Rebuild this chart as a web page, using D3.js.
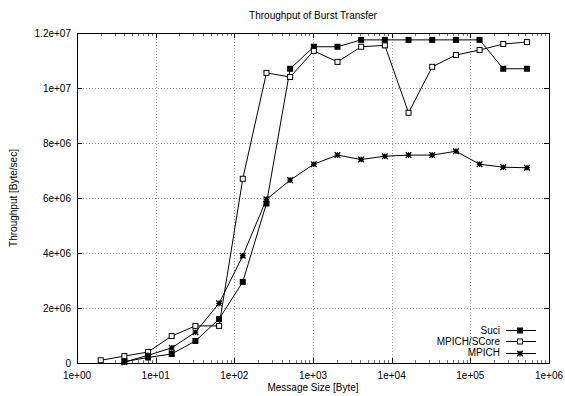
<!DOCTYPE html>
<html>
<head>
<meta charset="utf-8">
<script src="https://cdn.jsdelivr.net/npm/d3@7"></script>
<style>
  body { margin: 0; background: #fff; overflow: hidden; }
  svg { display: block; }
  svg text { font-family: "Liberation Sans", Arial, sans-serif; fill: #000; }
</style>
</head>
<body>
<div id="chart"></div>
<script>
// message sizes in bytes (powers of two)
const sizes = [2, 4, 8, 16, 32, 64, 128, 256, 512, 1024, 2048, 4096, 8192,
  16384, 32768, 65536, 131072, 262144, 524288];

// throughput values [Byte/sec], null = no point
const suci = [null, 0.05e6, 0.2e6, 0.33e6, 0.8e6, 1.6e6, 2.95e6, 5.8e6, 10.7e6,
  11.5e6, 11.5e6, 11.75e6, 11.75e6, 11.75e6, 11.75e6, 11.75e6, 11.75e6, 10.7e6, 10.7e6];
const score = [0.1e6, 0.25e6, 0.4e6, 0.98e6, 1.35e6, 1.35e6, 6.7e6, 10.55e6, 10.4e6,
  11.35e6, 10.95e6, 11.5e6, 11.55e6, 9.1e6, 10.77e6, 11.2e6, 11.38e6, 11.6e6, 11.67e6];
const mpich = [null, 0.03e6, 0.28e6, 0.55e6, 1.12e6, 2.17e6, 3.9e6, 5.95e6, 6.65e6,
  7.23e6, 7.56e6, 7.4e6, 7.52e6, 7.56e6, 7.56e6, 7.7e6, 7.23e6, 7.12e6, 7.1e6];

const xTicks = [1, 10, 100, 1000, 10000, 100000, 1000000];
const yTicks = [0, 2e6, 4e6, 6e6, 8e6, 10e6, 12e6];
const seriesNames = ["Suci", "MPICH/SCore", "MPICH"];

const width = 565, height = 396;
const margin = { top: 33, right: 16, bottom: 33, left: 77 };
const innerWidth = width - margin.left - margin.right;
const innerHeight = height - margin.top - margin.bottom;

const svg = d3.select("#chart").append("svg")
  .attr("width", width)
  .attr("height", height);

const g = svg.append("g")
  .attr("transform", `translate(${margin.left}, ${margin.top})`);

const x = d3.scaleLog().domain([1, 1e6]).range([0, innerWidth]);
const y = d3.scaleLinear().domain([0, 12e6]).range([innerHeight, 0]);

// format like gnuplot: 1e+02, 2e+06
const fmtX = (d) => "1e+" + String(Math.round(Math.log10(d))).padStart(2, "0");
const fmtY = (d) => {
  if (d === 0) return "0";
  const e = Math.floor(Math.log10(d));
  const m = +(d / Math.pow(10, e)).toFixed(1);
  return m + "e+" + String(e).padStart(2, "0");
};

// grid
const grid = g.append("g").attr("stroke", "#999").attr("stroke-width", 1)
  .attr("stroke-dasharray", "1,2");
grid.selectAll(".gx").data(xTicks.slice(1, -1)).enter().append("line")
  .attr("x1", (d) => Math.round(x(d)) + 0.5).attr("x2", (d) => Math.round(x(d)) + 0.5)
  .attr("y1", 0).attr("y2", innerHeight);
grid.selectAll(".gy").data(yTicks.slice(1, -1)).enter().append("line")
  .attr("y1", (d) => Math.round(y(d)) + 0.5).attr("y2", (d) => Math.round(y(d)) + 0.5)
  .attr("x1", 0).attr("x2", innerWidth);

// minor x ticks on log axis
const minor = [];
for (let e = 0; e < 6; e++) for (let m = 2; m <= 9; m++) minor.push(m * Math.pow(10, e));

const ticks = g.append("g").attr("stroke", "#000").attr("stroke-width", 1);
ticks.selectAll(".mb").data(minor).enter().append("line")
  .attr("x1", (d) => Math.round(x(d)) + 0.5).attr("x2", (d) => Math.round(x(d)) + 0.5)
  .attr("y1", innerHeight).attr("y2", innerHeight - 3).attr("stroke-opacity", 0.55);
ticks.selectAll(".mt").data(minor).enter().append("line")
  .attr("x1", (d) => Math.round(x(d)) + 0.5).attr("x2", (d) => Math.round(x(d)) + 0.5)
  .attr("y1", 0).attr("y2", 3).attr("stroke-opacity", 0.55);
ticks.selectAll(".xb").data(xTicks).enter().append("line")
  .attr("x1", (d) => Math.round(x(d)) + 0.5).attr("x2", (d) => Math.round(x(d)) + 0.5)
  .attr("y1", innerHeight).attr("y2", innerHeight - 5);
ticks.selectAll(".xt").data(xTicks).enter().append("line")
  .attr("x1", (d) => Math.round(x(d)) + 0.5).attr("x2", (d) => Math.round(x(d)) + 0.5)
  .attr("y1", 0).attr("y2", 5);
ticks.selectAll(".yl").data(yTicks).enter().append("line")
  .attr("y1", (d) => Math.round(y(d)) + 0.5).attr("y2", (d) => Math.round(y(d)) + 0.5)
  .attr("x1", 0).attr("x2", 5);
ticks.selectAll(".yr").data(yTicks).enter().append("line")
  .attr("y1", (d) => Math.round(y(d)) + 0.5).attr("y2", (d) => Math.round(y(d)) + 0.5)
  .attr("x1", innerWidth).attr("x2", innerWidth - 5);

// tick labels
g.selectAll(".xl").data(xTicks).enter().append("text")
  .attr("x", (d) => x(d)).attr("y", innerHeight + 16)
  .attr("text-anchor", "middle").style("font-size", "10px")
  .text(fmtX);
g.selectAll(".ylab").data(yTicks).enter().append("text")
  .attr("x", -6).attr("y", (d) => y(d)).attr("dy", "0.35em")
  .attr("text-anchor", "end").style("font-size", "10px")
  .text(fmtY);

// border
g.append("rect").attr("x", 0.5).attr("y", 0.5)
  .attr("width", innerWidth).attr("height", innerHeight)
  .attr("fill", "none").attr("stroke", "#000").attr("stroke-width", 1);

// titles
svg.append("text").attr("x", margin.left + innerWidth / 2).attr("y", 19)
  .attr("text-anchor", "middle").style("font-size", "10px")
  .text("Throughput of Burst Transfer");
svg.append("text").attr("x", margin.left + innerWidth / 2).attr("y", 391)
  .attr("text-anchor", "middle").style("font-size", "10px")
  .text("Message Size [Byte]");
svg.append("text")
  .attr("transform", `translate(17, ${margin.top + innerHeight / 2}) rotate(-90)`)
  .attr("text-anchor", "middle").style("font-size", "10px")
  .text("Throughput [Byte/sec]");

// markers
function drawMarker(sel, type) {
  if (type === 0) {
    sel.append("rect").attr("x", -3).attr("y", -3).attr("width", 6).attr("height", 6)
      .attr("fill", "#000");
  } else if (type === 1) {
    sel.append("rect").attr("x", -2.5).attr("y", -2.5).attr("width", 5).attr("height", 5)
      .attr("fill", "#fff").attr("stroke", "#000").attr("stroke-width", 1);
  } else {
    const s = 2.8;
    sel.append("path")
      .attr("d", `M${-s},${-s}L${s},${s}M${-s},${s}L${s},${-s}M0,${-s}L0,${s}M${-s},0L${s},0`)
      .attr("stroke", "#000").attr("stroke-width", 1.3).attr("fill", "none");
  }
}

const allSeries = [suci, score, mpich];
const line = d3.line()
  .defined((d) => d[1] !== null)
  .x((d) => x(d[0]))
  .y((d) => y(d[1]));

allSeries.forEach((vals, i) => {
  const pts = sizes.map((s, j) => [s, vals[j]]);
  g.append("path").datum(pts)
    .attr("d", line)
    .attr("fill", "none").attr("stroke", "#000").attr("stroke-width", 1);
  g.selectAll(".m" + i).data(pts.filter((d) => d[1] !== null)).enter()
    .append("g")
    .attr("transform", (d) => `translate(${x(d[0])}, ${y(d[1])})`)
    .each(function () { drawMarker(d3.select(this), i); });
});

// legend
const legend = svg.append("g");
seriesNames.forEach((name, i) => {
  const ly = 330 + i * 11.3;
  legend.append("text").attr("x", 500).attr("y", ly).attr("dy", "0.35em")
    .attr("text-anchor", "end").style("font-size", "10px").text(name);
  legend.append("line").attr("x1", 506).attr("x2", 536)
    .attr("y1", Math.round(ly) + 0.5).attr("y2", Math.round(ly) + 0.5)
    .attr("stroke", "#000").attr("stroke-width", 1);
  drawMarker(legend.append("g").attr("transform", `translate(520, ${Math.round(ly) + 0.5})`), i);
});
</script>
</body>
</html>
